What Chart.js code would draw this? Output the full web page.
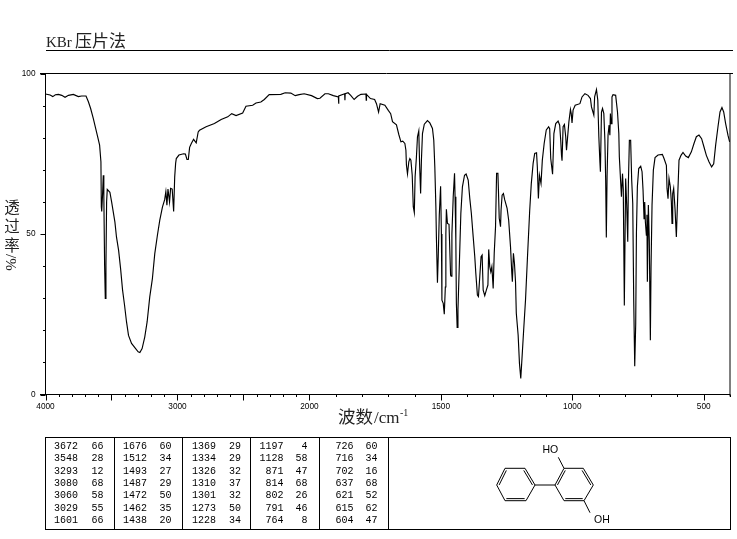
<!DOCTYPE html>
<html>
<head>
<meta charset="utf-8">
<title>KBr压片法</title>
<style>
  html, body { margin: 0; padding: 0; background: #fff; }
  canvas { display: block; }
</style>
<script src="https://cdn.jsdelivr.net/npm/chart.js@4/dist/chart.umd.js"></script>
</head>
<body>
<canvas id="ir" width="737" height="539"></canvas>
<script>
const waveNumbers = [
  4000,3965,3945,3925,3902,3877,3852,3826,3789,3751,
  3726,3693,3675,3658,3638,3620,3605,3590,3580,3577,
  3574,3568,3562,3558,3552,3547,3542,3537,3532,3512,
  3499,3474,3462,3446,3431,3416,3401,3386,3371,3348,
  3323,3298,3285,3268,3248,3230,3210,3190,3172,3152,
  3134,3114,3097,3088,3080,3072,3060,3052,3040,3029,
  3021,3014,3009,2989,2953,2940,2928,2918,2908,2895,
  2878,2858,2843,2833,2783,2720,2669,2619,2589,2556,
  2506,2481,2430,2405,2368,2342,2305,2217,2184,2141,
  2108,2078,2040,1992,1970,1960,1941,1928,1909,1890,
  1889,1888,1866,1865,1864,1853,1843,1830,1817,1804,
  1785,1784,1783,1768,1752,1745,1737,1731,1713,1700,
  1691,1684,1669,1660,1652,1645,1637,1633,1631,1627,
  1622,1618,1614,1609,1605,1601,1598,1593,1589,1584,
  1581,1577,1574,1570,1563,1551,1542,1532,1527,1523,
  1519,1517,1513,1510,1506,1501,1498,1496,1491,1487,
  1483,1481,1479,1475,1469,1463,1461,1458,1453,1448,
  1446,1443,1441,1438,1435,1430,1424,1418,1410,1404,
  1396,1390,1384,1377,1371,1367,1361,1357,1352,1347,
  1343,1339,1333,1327,1321,1318,1314,1310,1306,1301,
  1297,1292,1288,1283,1281,1278,1273,1271,1267,1262,
  1257,1248,1242,1235,1230,1228,1224,1220,1216,1213,
  1206,1201,1196,1191,1185,1178,1171,1162,1156,1149,
  1143,1136,1133,1129,1125,1119,1114,1107,1099,1090,
  1086,1082,1075,1070,1063,1054,1048,1044,1041,1039,
  1035,1030,1025,1022,1018,1013,1007,1004,1001,997,
  989,971,963,952,940,931,927,918,915,908,
  903,899,895,893,889,885,880,876,873,870.5,
  867.7,864,860,857,855,852,849,845,835,828,
  823,821,817,813,809,806,802,797,793,789,
  786.6,782.8,778,774,770,766.3,762.5,758.7,756,752.4,
  747.3,739.7,734.6,730.8,727,724.5,722,718.2,716,714.4,
  710.6,707,703,700.4,696.6,691.6,685.2,673.8,657.4,651,
  642,639.6,635.8,632,627,623.1,620.6,618,614.3,609.2,
  604.1,599,594,586.4,578.8,568.7,558.5,547,537,528,
  518,508,499,490,480,470,462,454.6,445.7,438,
  430.6,424,416.6,407.8,401.4
];
const transmittance = [
  93.6,93.3,92.8,93.4,93.5,93.2,92.6,93.2,93.5,92.8,
  93,93,91.2,89.1,86,82.9,80.3,77.7,72.5,58.5,
  57,62,68.3,62,40,29.9,40,60,63.9,63,
  60,53.7,49,44.9,39.2,32.5,27.8,22.6,18.4,15.9,
  14.6,13.3,13.1,14.3,17.9,22.6,30.4,36.1,43.9,49.6,
  54.3,58.4,60.7,63.2,59,64,60,64.2,64,57,
  67.8,72,73.5,74.6,75,74.9,73.2,73.2,77,78.2,
  79.5,78.4,81.8,82.3,83.4,84.4,85.7,86.5,87.5,86.9,
  87.7,89.8,90.1,90.8,91.1,91.9,93.4,93.5,94,93.9,
  93.1,93.4,93.7,93.1,92.2,92.3,93.7,93.7,93.1,92.7,
  90.6,93,93.7,91.7,93.7,94,93.2,91.9,92.9,93.5,
  93.6,91.7,93.5,92.2,91.9,90.6,88,90.6,90.1,88.5,
  87.5,85,84,81,78.7,78.9,78.2,76.1,71.5,68.7,
  72.5,73.5,73,68.3,58.5,56.7,67.8,74,80.3,82.1,
  72,62.6,73,81.3,84.2,85.3,84.6,82.9,79.2,70.9,
  58.5,49.1,34.8,43,56,64.9,50,29.4,28.4,25,
  33.5,50,57.7,53.3,53,37.2,36.9,50,61.6,68.9,
  61.6,48,28.4,20.9,26.3,39.8,56.4,64.7,68.3,68.7,
  66.8,61.1,56.4,49.1,42.9,37.7,31,30.5,36.7,42.9,
  43.4,32.5,30.8,32.5,34.1,45.2,39.8,38.2,39.8,33,
  44,52.3,68.9,68.9,63.7,54.9,52.3,57.4,62.1,62.6,
  60.6,58,54.3,46,37.7,35.1,44,40.8,35.1,25.3,
  18.5,9.7,5,11.8,20.1,29.4,41.9,57.4,65.7,72,
  75.1,75.3,70.9,61.1,68.3,65.7,73,78.2,82.4,83.4,
  82.8,73.5,68.6,81.3,84.4,85.2,83.9,79.2,74.5,72.8,
  83.4,84.1,80.3,76.1,80,84.9,88.8,87.5,84.6,88.6,
  90.1,90.6,92.7,93.7,93.2,92.2,89.6,87,92.7,95,
  91.7,80.3,72.5,69.4,88,89.1,87.5,79.2,66.8,48.9,
  67.8,80.8,83.9,80.8,87.5,84.4,92.7,93.4,93.2,88,
  81.3,74,67.8,61.6,68.8,64,27.7,67.3,59,47.6,
  65.7,79.2,79.2,66.8,59.5,29.4,8.8,22.1,50.2,64.7,
  70.4,71.1,69.4,63.6,54.8,60,53.8,49.6,56,35.1,
  59,48,16.9,39.8,59,69.9,73.8,74.6,74.8,73.5,
  71.4,64.2,61,67.3,64.7,60,53.3,62.6,64.2,57.9,
  49.1,61.6,73,74.5,75.4,74.3,73.8,75.6,78.2,80.3,
  80.8,79.7,77.1,74.5,72.5,70.9,71.9,77.7,83.4,88,
  89.4,88,84.4,80.8,78.7
];

const xTickValues = [];
for (let v = 4000; v >= 400; v -= 100) xTickValues.push(v);
const xTickLabels = [4000, 3000, 2000, 1500, 1000, 500];
const yTickLabels = [0, 50, 100];

// peak table, one list per column pair
const peakWaves = [
  ['3672', '3548', '3293', '3080', '3060', '3029', '1601'],
  ['1676', '1512', '1493', '1487', '1472', '1462', '1438'],
  ['1369', '1334', '1326', '1310', '1301', '1273', '1228'],
  ['1197', '1128', '871', '814', '802', '791', '764'],
  ['726', '716', '702', '637', '621', '615', '604']
];
const peakValues = [
  ['66', '28', '12', '68', '58', '55', '66'],
  ['60', '34', '27', '29', '50', '35', '20'],
  ['29', '29', '32', '37', '32', '50', '34'],
  ['4', '58', '47', '68', '26', '46', '8'],
  ['60', '34', '16', '68', '52', '62', '47']
];

const INK = '#000';
const BREAK_AT = 2000;       // the axis doubles its scale below this wavenumber
const BREAK_FRACTION = 0.3856;

// wavenumber axis, compressed above 2000 cm-1
class BrokenWaveScale extends Chart.LinearScale {
  getPixelForValue(value) {
    let frac;
    if (value >= BREAK_AT) {
      frac = (this.max - value) / (this.max - BREAK_AT) * BREAK_FRACTION;
    } else {
      frac = BREAK_FRACTION + (BREAK_AT - value) / (BREAK_AT - this.min) * (1 - BREAK_FRACTION);
    }
    return this.getPixelForDecimal(frac);
  }
  getValueForPixel(pixel) {
    const frac = this.getDecimalForPixel(pixel);
    if (frac <= BREAK_FRACTION) {
      return this.max - frac / BREAK_FRACTION * (this.max - BREAK_AT);
    }
    return BREAK_AT - (frac - BREAK_FRACTION) / (1 - BREAK_FRACTION) * (BREAK_AT - this.min);
  }
}
BrokenWaveScale.id = 'brokenWave';
BrokenWaveScale.defaults = Chart.LinearScale.defaults;
Chart.register(BrokenWaveScale);

function line(ctx, x1, y1, x2, y2) {
  ctx.beginPath();
  ctx.moveTo(x1, y1);
  ctx.lineTo(x2, y2);
  ctx.stroke();
}

function drawFrame(chart, ctx) {
  const { left, right, top, bottom } = chart.chartArea;
  ctx.strokeStyle = INK;
  ctx.lineWidth = 1;
  line(ctx, 40, top, 733, top);
  line(ctx, 40, bottom, right, bottom);
  line(ctx, left, top, left, bottom);
  line(ctx, right, top, right, bottom + 2);

  const xScale = chart.scales.x;
  xTickValues.forEach((v) => {
    const px = Math.round(xScale.getPixelForValue(v)) + 0.5;
    line(ctx, px, bottom, px, bottom + (v % 500 === 0 ? 6 : 2.5));
  });
  const yScale = chart.scales.y;
  yScale.ticks.forEach((t) => {
    const py = Math.round(yScale.getPixelForValue(t.value)) + 0.5;
    const len = t.value % 50 === 0 ? 5 : 2.5;
    line(ctx, left - len, py, left, py);
  });
}

function drawTitles(chart, ctx) {
  ctx.fillStyle = '#222';
  ctx.textBaseline = 'alphabetic';
  ctx.textAlign = 'left';

  // heading
  ctx.font = '15px "Liberation Serif"';
  ctx.fillText('KBr', 46, 47);
  ctx.font = '17px "Noto Sans CJK SC"';
  ctx.fillText('压片法', 75, 47);
  ctx.strokeStyle = INK;
  line(ctx, 46, 50.5, 733, 50.5);

  // x title
  ctx.font = '17.5px "Noto Sans CJK SC"';
  ctx.fillText('波数', 338, 423);
  ctx.font = '17px "Liberation Serif"';
  ctx.fillText('/cm', 374, 423);
  ctx.font = '10px "Liberation Serif"';
  ctx.fillText('-1', 400, 416);

  // y title: upright characters, then the rotated unit
  ctx.textAlign = 'center';
  ctx.textBaseline = 'middle';
  ctx.font = '15.5px "Noto Sans CJK SC"';
  ctx.fillText('透', 12, 207.5);
  ctx.fillText('过', 12, 226.5);
  ctx.fillText('率', 12, 245);
  ctx.save();
  ctx.translate(12, 262.5);
  ctx.rotate(-Math.PI / 2);
  ctx.font = '15px "Liberation Serif"';
  ctx.fillText('%/', 0, 0);
  ctx.restore();
}

function drawPeakTable(ctx) {
  const box = { left: 45.5, right: 730.5, top: 437.5, bottom: 529.5 };
  const dividers = [114.5, 182.5, 250.5, 319.5, 388.5];
  const waveRight = [78, 147, 216, 283.5, 353.5];
  const valueRight = [103.5, 171.5, 241, 307.5, 377.5];
  ctx.strokeStyle = INK;
  ctx.strokeRect(box.left, box.top, box.right - box.left, box.bottom - box.top);
  dividers.forEach((x) => line(ctx, x, box.top, x, box.bottom));

  ctx.fillStyle = INK;
  ctx.font = '10px "Liberation Mono"';
  ctx.textAlign = 'right';
  ctx.textBaseline = 'middle';
  peakWaves.forEach((col, c) => {
    col.forEach((w, r) => {
      const y = 446.5 + r * 12.33;
      ctx.fillText(w, waveRight[c], y);
      ctx.fillText(peakValues[c][r], valueRight[c], y);
    });
  });
}

// hexagon with three double bonds, drawn as inner offset segments
function drawRing(ctx, pts, doubles) {
  const cx = pts.reduce((s, p) => s + p[0], 0) / 6;
  const cy = pts.reduce((s, p) => s + p[1], 0) / 6;
  ctx.beginPath();
  pts.forEach((p, i) => (i ? ctx.lineTo(p[0], p[1]) : ctx.moveTo(p[0], p[1])));
  ctx.closePath();
  ctx.stroke();
  doubles.forEach((i) => {
    const a = pts[i];
    const b = pts[(i + 1) % 6];
    const k = 0.87;
    line(ctx, cx + (a[0] - cx) * k, cy + (a[1] - cy) * k, cx + (b[0] - cx) * k, cy + (b[1] - cy) * k);
  });
}

function drawStructure(ctx) {
  ctx.strokeStyle = INK;
  ctx.lineWidth = 1;
  drawRing(ctx, [[496.7, 485], [505, 468.3], [525, 468.3], [535, 485], [526, 500.7], [505, 500.7]], [0, 2, 4]);
  drawRing(ctx, [[555, 485], [564, 468.3], [583.3, 468.3], [593.3, 485], [584, 500.7], [564, 500.7]], [0, 2, 4]);
  line(ctx, 535, 485, 555, 485);
  line(ctx, 564, 468.3, 558.3, 457.3);
  line(ctx, 584, 500.7, 590, 512.7);
  ctx.fillStyle = INK;
  ctx.font = '10.5px "Liberation Sans"';
  ctx.textAlign = 'left';
  ctx.textBaseline = 'middle';
  ctx.fillText('HO', 542.5, 450);
  ctx.fillText('OH', 594, 520);
}

const sheetPlugin = {
  id: 'sheet',
  afterDraw(chart) {
    const ctx = chart.ctx;
    ctx.save();
    drawFrame(chart, ctx);
    drawTitles(chart, ctx);
    drawPeakTable(ctx);
    drawStructure(ctx);
    ctx.restore();
  }
};

new Chart(document.getElementById('ir').getContext('2d'), {
  type: 'line',
  data: {
    datasets: [{
      data: waveNumbers.map((w, i) => ({ x: w, y: transmittance[i] })),
      borderColor: INK,
      borderWidth: 1.15,
      pointRadius: 0,
      tension: 0,
      fill: false
    }]
  },
  options: {
    responsive: false,
    animation: false,
    devicePixelRatio: 1,
    layout: { padding: { left: 0, right: 6.5, top: 73.5, bottom: 0 } },
    plugins: { legend: { display: false }, tooltip: { enabled: false } },
    scales: {
      x: {
        type: 'brokenWave',
        min: 400,
        max: 4000,
        grid: { display: false, drawTicks: false },
        border: { display: false },
        afterBuildTicks: (axis) => { axis.ticks = xTickValues.map((value) => ({ value })); },
        afterFit: (axis) => { axis.height = 539 - 394.5; },
        ticks: {
          autoSkip: false,
          maxRotation: 0,
          padding: 7,
          color: INK,
          font: { family: '"Liberation Sans"', size: 8.25 },
          callback: (v) => (xTickLabels.includes(v) ? String(v) : '')
        }
      },
      y: {
        min: 0,
        max: 100,
        grid: { display: false, drawTicks: false },
        border: { display: false },
        afterFit: (axis) => { axis.width = 45.5; },
        ticks: {
          stepSize: 10,
          padding: 10,
          color: INK,
          font: { family: '"Liberation Sans"', size: 8.25 },
          callback: (v) => (yTickLabels.includes(v) ? String(v) : '')
        }
      }
    }
  },
  plugins: [sheetPlugin]
});
</script>
</body>
</html>
